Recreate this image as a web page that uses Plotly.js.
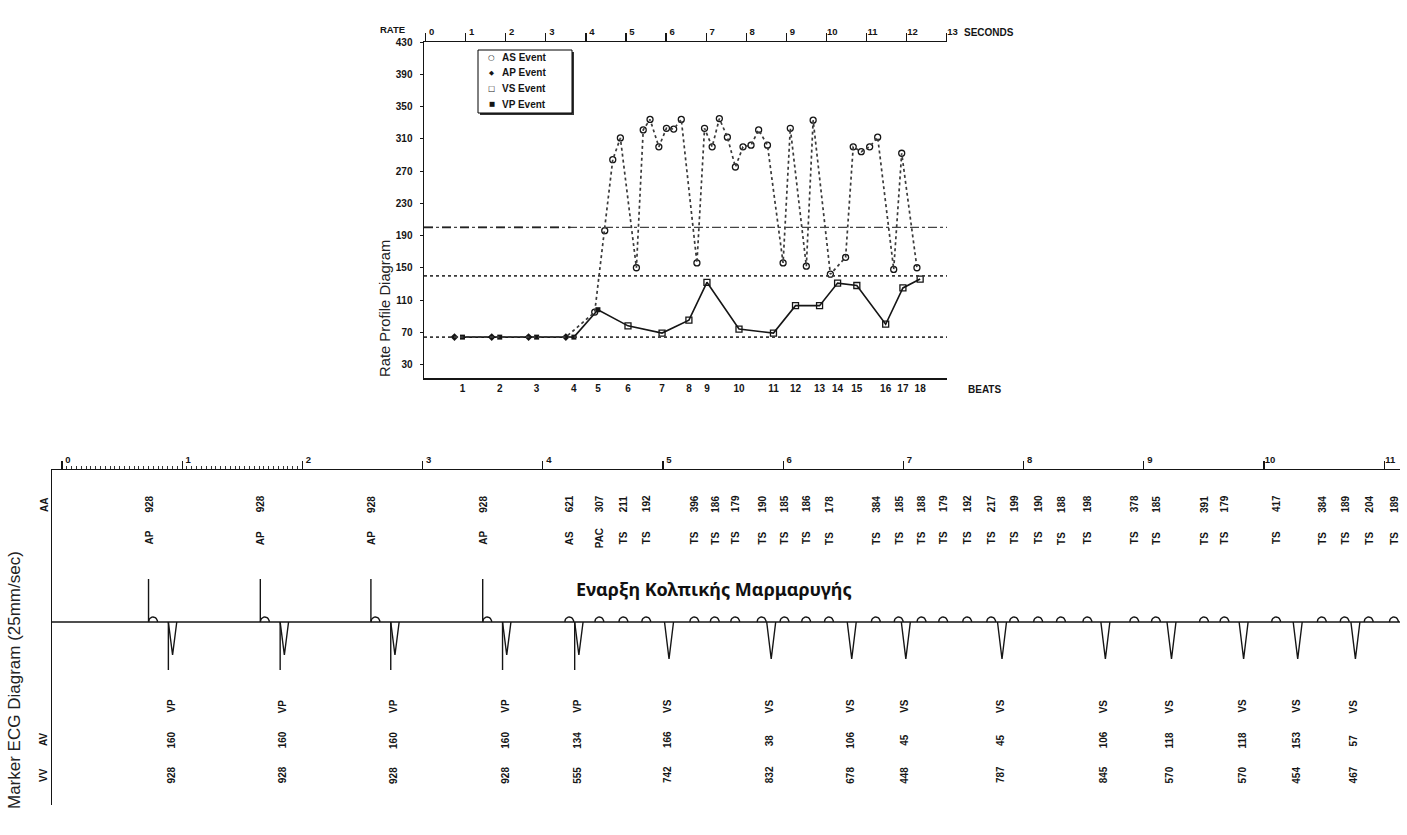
<!DOCTYPE html>
<html><head><meta charset="utf-8">
<script src="https://cdn.plot.ly/plotly-3.0.1.min.js"></script>
<style>html,body{margin:0;padding:0;background:#fff}#chart{width:1407px;height:835px}</style>
</head><body><div id="chart"></div>
<script>
// ---------------- data ----------------
const secondsTicks = [0,1,2,3,4,5,6,7,8,9,10,11,12,13];
const ecgSecondsTicks = [0,1,2,3,4,5,6,7,8,9,10,11];
const rateTicks = [30,70,110,150,190,230,270,310,350,390,430];

// ventricular events (beats)
const beatNumbers = ['1','2','3','4','5','6','7','8','9','10','11','12','13','14','15','16','17','18'];
const vTimes = [0.92,1.85,2.77,3.70,4.30,5.05,5.90,6.57,7.02,7.82,8.68,9.23,9.83,10.28,10.76,11.48,11.91,12.34];
const vTypes = ['VP','VP','VP','VP','VP','VS','VS','VS','VS','VS','VS','VS','VS','VS','VS','VS','VS','VS'];
const vRates = [64,64,64,64,98,78,69,85,132,74,69,103,103,131,128,80,125,136];
const avDelays = ['160','160','160','160','134','166','38','106','45','45','106','118','118','153','57'];
const vvIntervals = ['928','928','928','928','555','742','832','678','448','787','845','570','570','454','467'];

// atrial events
const apTimes = [0.72,1.65,2.57,3.50];
const apRates = [64,64,64,64];
const asTimes = [4.22,4.47,4.67,4.86,5.26,5.43,5.60,5.82,6.01,6.19,6.38,
                 6.77,6.96,7.15,7.33,7.53,7.73,7.92,8.12,8.31,8.53,
                 8.92,9.10,9.50,9.67,10.10,10.48,10.67,10.87,11.08,
                 11.28,11.68,11.88,12.26];
const asRates = [95,196,284,311,150,321,334,300,323,322,334,
                 156,323,300,335,312,275,300,302,321,302,
                 156,323,152,333,142,163,300,294,300,
                 312,148,292,150];
const aaIntervals = ['928','928','928','928','621','307','211','192','396','186','179','190','185','186','178',
                     '384','185','188','179','192','217','199','190','188','198',
                     '378','185','391','179','417','384','189','204','189'];
const aaMarkers = ['AP','AP','AP','AP','AS','PAC','TS','TS','TS','TS','TS','TS','TS','TS','TS',
                   'TS','TS','TS','TS','TS','TS','TS','TS','TS','TS',
                   'TS','TS','TS','TS','TS','TS','TS','TS','TS'];

// legend entries
const legendNames = ['AS Event','AP Event','VS Event','VP Event'];
const legendGlyphs = ['○','◆','□','■'];

// reference rate lines
const tachyRate = 200;
const upperRate = 140;
const lowerRate = 64;

// ---------------- layout geometry ----------------
const W = 1407, H = 835;
const topDomX = [424/W, 947/W], topDomY = [1-378/H, 1-42/H];
const botDomX = [52/W, 1400/W], botDomY = [1-805/H, 1-470/H];
const topXRange = [-0.04, 13.01];
const topYRange = [13.3, 430];
const botXRange = [-0.083, 11.131];
const botYRange = [-183, 152];
const SPP = (botXRange[1]-botXRange[0]) / ((botDomX[1]-botDomX[0])*W); // seconds per pixel (ECG)
const px = (x) => x / W, py = (y) => 1 - y / H;

const FONT = 'Liberation Sans Narrow, Liberation Sans, Arial, sans-serif';
const INK = '#151515';

// ---------------- ECG marker glyphs ----------------
const ecgX = [], ecgY = [];
function seg(pts){ pts.forEach(p => { ecgX.push(p[0]); ecgY.push(p[1]); }); ecgX.push(null); ecgY.push(null); }
function bump(t){
  const pts = [];
  for (let k = 0; k <= 12; k++){ const a = Math.PI*k/12; pts.push([t - 4.5*SPP*Math.cos(a), 5*Math.sin(a)]); }
  seg(pts);
}
const atrialTimes = apTimes.concat(asTimes);
atrialTimes.forEach((t, i) => {
  if (t > botXRange[1]) return;
  if (i < apTimes.length){ seg([[t,0],[t,43]]); bump(t + 4.5*SPP); }
  else bump(t);
});
vTimes.forEach((c, i) => {
  if (c > botXRange[1]) return;
  if (vTypes[i] === 'VP'){
    seg([[c-4.2*SPP,0],[c-4.2*SPP,-48]]);
    seg([[c-4.2*SPP,0],[c,-33],[c+4.2*SPP,0]]);
  } else {
    seg([[c-4.5*SPP,0],[c,-37],[c+4.5*SPP,0]]);
  }
});

// ---------------- traces ----------------
const atrialRates = apRates.concat(asRates);
const vsIdx = vTypes.map((v,i)=>v==='VS'?i:-1).filter(i=>i>=0);
const vpIdx = vTypes.map((v,i)=>v==='VP'?i:-1).filter(i=>i>=0);

const traces = [
  {x: atrialTimes, y: atrialRates, mode:'lines', line:{color:'#3a3a3a', width:1.7, dash:'dot'},
   hoverinfo:'skip', xaxis:'x2', yaxis:'y'},
  {x: vTimes, y: vRates, mode:'lines', line:{color:INK, width:1.6},
   hoverinfo:'skip', xaxis:'x', yaxis:'y'},
  {x: asTimes, y: asRates, mode:'markers', name:legendNames[0],
   marker:{symbol:'circle-open', size:6, color:INK, line:{width:1.3, color:INK}}, xaxis:'x', yaxis:'y'},
  {x: apTimes, y: apRates, mode:'markers', name:legendNames[1],
   marker:{symbol:'diamond', size:6, color:INK}, xaxis:'x', yaxis:'y'},
  {x: vsIdx.map(i=>vTimes[i]), y: vsIdx.map(i=>vRates[i]), mode:'markers', name:legendNames[2],
   marker:{symbol:'square-open', size:6, color:INK, line:{width:1.3, color:INK}}, xaxis:'x', yaxis:'y'},
  {x: vpIdx.map(i=>vTimes[i]), y: vpIdx.map(i=>vRates[i]), mode:'markers', name:legendNames[3],
   marker:{symbol:'square', size:5, color:INK}, xaxis:'x', yaxis:'y'},
  {x: ecgX, y: ecgY, mode:'lines', line:{color:INK, width:1.4}, connectgaps:false,
   hoverinfo:'skip', xaxis:'x3', yaxis:'y2'}
];

// ---------------- annotations ----------------
const lab = {family: FONT, size: 10, color: INK, weight: 'bold'};
const ann = [];
function rot(x, y, text, xref, yref, font){
  ann.push({x, y, xref, yref, text, textangle:-90, showarrow:false, xanchor:'center', yanchor:'middle', font: font || lab});
}
function txt(x, y, text, font, xanchor){
  ann.push({x:px(x), y:py(y), xref:'paper', yref:'paper', text, showarrow:false,
            xanchor: xanchor || 'center', yanchor:'middle', font});
}
aaIntervals.forEach((v,i) => {
  const t = atrialTimes[i];
  if (t > botXRange[1]) return;
  rot(t, 118, v, 'x3', 'y2');
  rot(t, 84, aaMarkers[i], 'x3', 'y2');
});
avDelays.forEach((v,i) => {
  const c = vTimes[i] - 2*SPP;
  rot(c, -84, vTypes[i], 'x3', 'y2');
  rot(c, -118, v, 'x3', 'y2');
  rot(c, -153, vvIntervals[i], 'x3', 'y2');
});
rot(px(44), py(505), 'AA', 'paper', 'paper');
rot(px(43), py(740), 'AV', 'paper', 'paper');
rot(px(43), py(775), 'VV', 'paper', 'paper');
rot(px(385), py(308), 'Rate Profile Diagram', 'paper', 'paper', {family:'Liberation Sans, Arial', size:14.8, color:'#222'});
rot(px(14), py(680), 'Marker ECG Diagram (25mm/sec)', 'paper', 'paper', {family:'Liberation Sans, Arial', size:17, color:'#222'});
const small = {family:FONT, size:9.5, color:INK, weight:'bold'};
txt(392, 29, 'RATE', small);
txt(984, 389, 'BEATS', {family:FONT, size:10, color:INK, weight:'bold'});
txt(962, 32, 'SECONDS', {family:FONT, size:10, color:INK, weight:'bold'}, 'left');
txt(574, 589, 'Εναρξη Κολπικής Μαρμαρυγής', {family:'Noto Sans, Open Sans, sans-serif', size:18, color:'#111', weight:'bold'}, 'left');
// legend (box drawn as shapes)
const legendRows = [57, 72.7, 88.5, 104.5];
legendNames.forEach((n,i) => {
  txt(491.5, legendRows[i], legendGlyphs[i], {family:'DejaVu Sans, sans-serif', size: (i%2 ? 6.5 : 7.5), color:INK});
  txt(500, legendRows[i], n, {family:FONT, size:10, color:INK, weight:'bold'}, 'left');
});

// ---------------- shapes ----------------
const shapes = [
  {type:'line', xref:'x domain', yref:'y', x0:0, x1:1, y0:tachyRate, y1:tachyRate, line:{color:'#444', width:1.2, dash:'dashdot'}},
  {type:'line', xref:'x domain', yref:'y', x0:0, x1:0.28, y0:tachyRate, y1:tachyRate, line:{color:'#222', width:1.8, dash:'dash'}},
  {type:'line', xref:'x domain', yref:'y', x0:0, x1:1, y0:upperRate, y1:upperRate, line:{color:'#3a3a3a', width:1.6, dash:'dot'}},
  {type:'line', xref:'x domain', yref:'y', x0:0, x1:1, y0:lowerRate, y1:lowerRate, line:{color:'#3a3a3a', width:1.6, dash:'dot'}},
  {type:'line', xref:'x3 domain', yref:'y2', x0:0, x1:1, y0:0, y1:0, line:{color:INK, width:1.4}},
  {type:'rect', xref:'paper', yref:'paper', x0:px(480), x1:px(574), y0:py(115), y1:py(52), fillcolor:'#333', line:{width:0}},
  {type:'rect', xref:'paper', yref:'paper', x0:px(478), x1:px(572), y0:py(113), y1:py(50), fillcolor:'#fff', line:{color:'#000', width:1}}
];

const rulerTicks = [];
for (let k = 1; k < 50; k++) if (k % 25) rulerTicks.push(+(k*0.04).toFixed(2));

const tickFont = {family: FONT, size: 10, color: INK, weight: 'bold'};
const secFont = {family: FONT, size: 9.5, color: INK, weight: 'bold'};
const layout = {
  width: W, height: H, margin:{l:0,r:0,t:0,b:0},
  paper_bgcolor:'#fff', plot_bgcolor:'rgba(0,0,0,0)',
  showlegend: false,
  xaxis:{domain:topDomX, range:topXRange, anchor:'y', side:'bottom', showline:true, linewidth:2, linecolor:INK,
    ticks:'', tickmode:'array', tickvals:vTimes, ticktext:beatNumbers, tickfont:tickFont, showgrid:false, zeroline:false},
  xaxis2:{overlaying:'x', anchor:'y', side:'top', range:topXRange, showline:true, linewidth:1.5, linecolor:INK,
    ticks:'outside', ticklen:8, tickwidth:1.2, tickcolor:INK, tickmode:'array', tickvals:secondsTicks,
    ticklabelstandoff:-6, ticklabelshift:6, tickfont:secFont, showgrid:false, zeroline:false},
  yaxis:{domain:topDomY, range:topYRange, anchor:'x', showline:true, linewidth:1.5, linecolor:INK,
    ticks:'outside', ticklen:3, tickcolor:INK, tickmode:'array', tickvals:rateTicks, tickfont:tickFont,
    ticklabelstandoff:5, showgrid:false, zeroline:false},
  xaxis3:{domain:botDomX, range:botXRange, anchor:'y2', side:'top', showline:true, linewidth:1.5, linecolor:INK,
    ticks:'outside', ticklen:8, tickwidth:1.2, tickcolor:INK, tickmode:'array', tickvals:ecgSecondsTicks,
    ticklabelstandoff:-6, ticklabelshift:6, tickfont:secFont,
    minor:{tickmode:'array', tickvals:rulerTicks, ticks:'outside', ticklen:3, tickwidth:1, tickcolor:'#333', showgrid:false},
    showgrid:false, zeroline:false},
  xaxis4:{overlaying:'x3', anchor:'y2', side:'bottom', range:botXRange, showline:true, linewidth:2, linecolor:INK,
    ticks:'', tickmode:'array', tickvals:vTimes.slice(0,15), ticktext:beatNumbers.slice(0,15), tickfont:tickFont,
    showgrid:false, zeroline:false},
  yaxis2:{domain:botDomY, range:botYRange, anchor:'x3', showline:true, linewidth:1.5, linecolor:INK,
    ticks:'', showticklabels:false, showgrid:false, zeroline:false},
  annotations: ann,
  shapes: shapes
};

Plotly.newPlot('chart', traces, layout, {displayModeBar:false, staticPlot:true});
</script></body></html>
